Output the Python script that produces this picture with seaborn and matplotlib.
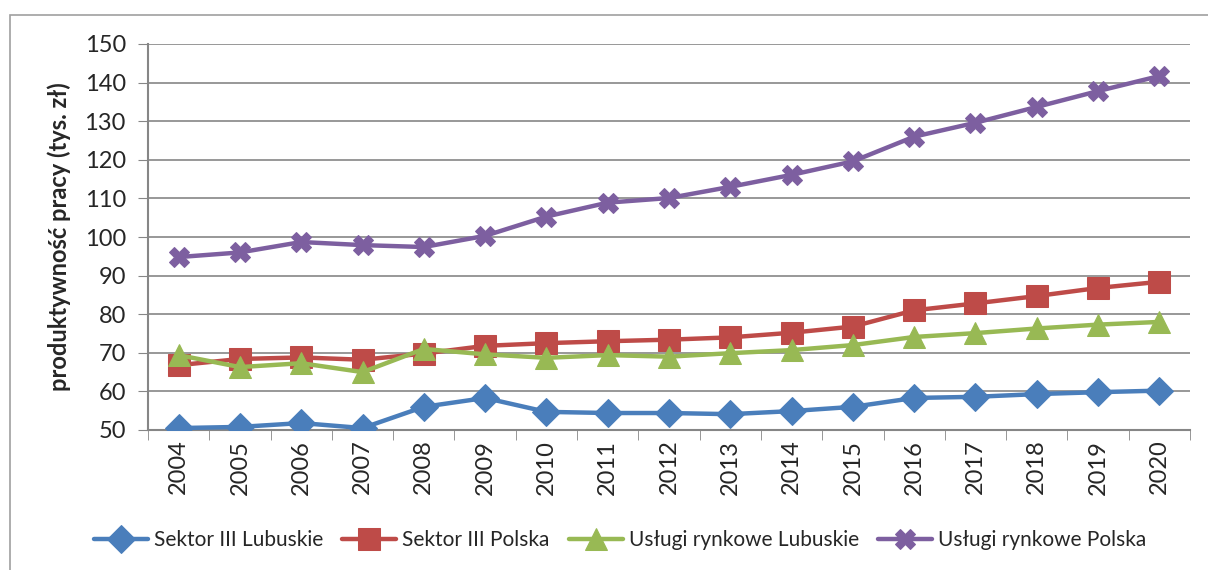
import numpy as np
import pandas as pd
import matplotlib
matplotlib.use("Agg")
import matplotlib.pyplot as plt
import seaborn as sns
from matplotlib.patches import Rectangle

years = [str(y) for y in range(2004, 2021)]
sektor_lub = [50.5, 50.8, 51.8, 50.5, 56.0, 58.3, 54.7, 54.4, 54.4, 54.1, 54.9, 56.0, 58.3, 58.6, 59.3, 59.8, 60.2]
sektor_pl = [66.8, 68.4, 68.8, 68.2, 69.8, 71.8, 72.5, 73.0, 73.4, 74.0, 75.2, 76.8, 81.0, 82.8, 84.7, 86.8, 88.4]
uslugi_lub = [69.4, 66.3, 67.3, 65.0, 71.0, 69.6, 68.7, 69.4, 69.0, 69.9, 70.7, 72.0, 74.1, 75.1, 76.3, 77.3, 78.0]
uslugi_pl = [94.8, 96.0, 98.7, 97.9, 97.4, 100.3, 105.3, 108.9, 110.1, 113.0, 116.1, 119.6, 126.0, 129.6, 133.7, 137.8, 141.7]
series_names = ["Sektor III Lubuskie", "Sektor III Polska", "Usługi rynkowe Lubuskie", "Usługi rynkowe Polska"]
ylabel = "produktywność pracy (tys. zł)"

sns.set_style("white")
plt.rcParams['font.family'] = ['Lato', 'DejaVu Sans']

fig = plt.figure(figsize=(12.08, 5.70), dpi=100)
ax = fig.add_axes([148/1208, 1-430/570, (1190-148)/1208, (430-44)/570])

colors = ["#4a7ebb", "#be4b48", "#98b954", "#7d5fa0"]
markers = ["D", "s", "^", "X"]
msizes = [14, 16, 16, 15]
xs = np.arange(len(years))
for vals, name, c, m, ms in zip([sektor_lub, sektor_pl, uslugi_lub, uslugi_pl], series_names, colors, markers, msizes):
    sns.lineplot(x=xs, y=vals, ax=ax, color=c, linewidth=3.2, marker=m, markersize=ms,
                 markeredgecolor=c, label=name, zorder=3)

ax.set_xlim(-0.5, len(years) - 0.5)
ax.set_ylim(50, 150)
ax.set_yticks(np.arange(50, 151, 10))
ax.tick_params(axis='y', labelsize=17, length=7, color='#868686', direction='out', pad=9, left=True)
ax.set_xticks(xs)
ax.set_xticklabels(years, rotation=90, fontsize=17)
ax.set_xticks(np.arange(-0.5, len(years), 1), minor=True)
ax.tick_params(axis='x', which='major', length=0, pad=7)
ax.tick_params(axis='x', which='minor', length=7, color='#868686', direction='out', bottom=True)
ax.grid(axis='y', color='#868686', linewidth=1.2)
ax.grid(axis='x', visible=False)
for s in ['top', 'right']:
    ax.spines[s].set_visible(False)
ax.spines['left'].set_color('#868686')
ax.spines['bottom'].set_color('#868686')
ax.spines['left'].set_linewidth(1.5)
ax.spines['bottom'].set_linewidth(1.5)
ax.set_ylabel(ylabel, fontsize=17, fontweight='bold', labelpad=10)

handles, labels = ax.get_legend_handles_labels()
ax.legend(handles, labels, loc='center', frameon=False, ncol=4,
          fontsize=15, handlelength=2.6, columnspacing=0.9, handletextpad=0.3,
          bbox_to_anchor=(620/1208, 1-540/570), bbox_transform=fig.transFigure)

fig.patches.append(Rectangle((10/1208, -0.1), 1.2, 1 - 15/570 + 0.1, transform=fig.transFigure,
                             fill=False, edgecolor='#a0a0a0', linewidth=1.2))

fig.savefig("out.png", dpi=100)
